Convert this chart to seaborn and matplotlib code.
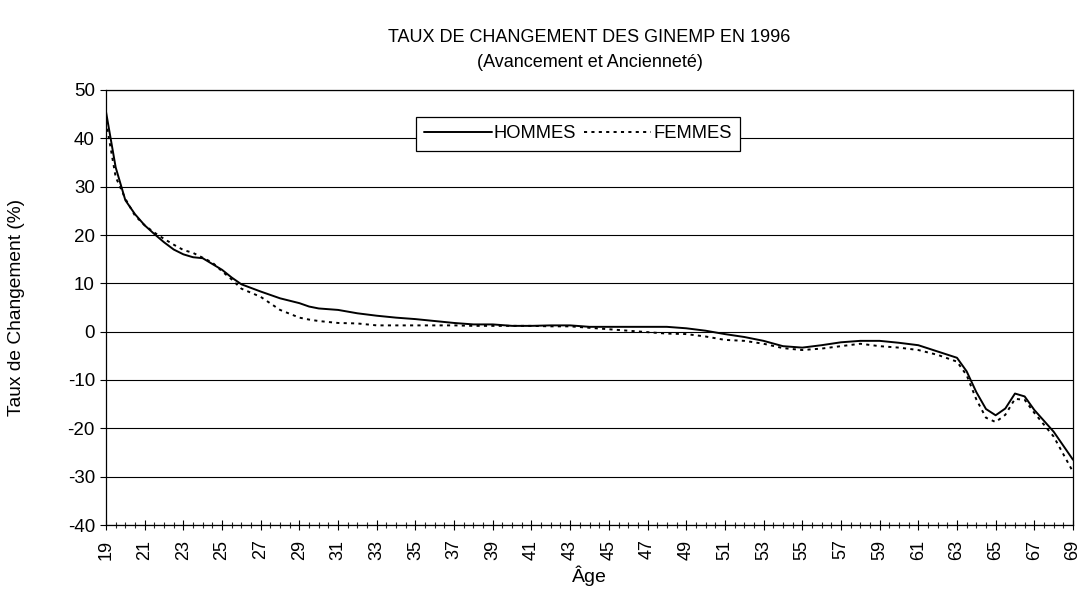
"""Taux de changement des GINEMP en 1996 — hommes / femmes par âge."""

import matplotlib

matplotlib.use("Agg")
import matplotlib.pyplot as plt
import numpy as np
import pandas as pd
import seaborn as sns
from matplotlib.ticker import MultipleLocator

# Âges (pas d'un demi-an là où la courbe bouge vite)
ages = [19, 19.5, 20, 20.5, 21, 21.5, 22, 22.5, 23, 23.5, 24, 24.5, 25, 25.5, 26,
        27, 28, 29, 29.5, 30, 31, 32, 33, 34, 35, 36, 37, 38, 39, 40, 41, 42, 43,
        44, 45, 46, 47, 48, 49, 50, 51, 52, 53, 54, 55, 56, 57, 58, 59, 60, 61, 62,
        63, 63.5, 64, 64.5, 65, 65.5, 66, 66.5, 67, 68, 69]

hommes = [45.5, 34.0, 27.2, 24.3, 22.0, 20.2, 18.5, 17.0, 16.0, 15.4, 15.2, 14.0, 12.8, 11.2, 9.8,
          8.3, 6.9, 5.9, 5.2, 4.8, 4.5, 3.8, 3.3, 2.9, 2.6, 2.2, 1.8, 1.5, 1.5, 1.2, 1.2, 1.3, 1.3,
          1.0, 1.0, 1.0, 1.0, 1.0, 0.7, 0.2, -0.5, -1.1, -1.9, -3.0, -3.3, -2.8, -2.2, -1.9, -1.9, -2.3, -2.8, -4.1,
          -5.4, -8.2, -12.5, -16.0, -17.3, -15.9, -12.8, -13.4, -16.2, -20.7, -26.5]

femmes = [43.5, 32.0, 27.5, 24.0, 22.0, 20.5, 19.2, 18.0, 16.9, 16.3, 15.3, 14.3, 12.5, 10.8, 8.9,
          7.2, 4.5, 2.9, 2.5, 2.2, 1.8, 1.7, 1.3, 1.3, 1.3, 1.3, 1.3, 1.2, 1.2, 1.2, 1.2, 1.1, 1.1,
          0.8, 0.5, 0.2, -0.1, -0.4, -0.5, -1.0, -1.7, -1.9, -2.5, -3.4, -3.8, -3.5, -3.0, -2.5, -3.0, -3.3, -3.8, -4.8,
          -6.2, -9.0, -14.0, -17.8, -18.7, -17.2, -13.9, -14.1, -16.8, -21.7, -29.0]

y_ticks = list(range(-40, 51, 10))
x_labels = list(range(19, 70, 2))

sns.set_style("white")
plt.rcParams["font.family"] = ["Liberation Sans", "DejaVu Sans"]
plt.rcParams["axes.unicode_minus"] = False
plt.rcParams["text.color"] = "black"
plt.rcParams["axes.labelcolor"] = "black"

df = pd.DataFrame({
    "Âge": ages * 2,
    "Taux": hommes + femmes,
    "Sexe": ["HOMMES"] * len(ages) + ["FEMMES"] * len(ages),
})

fig = plt.figure(figsize=(10.81, 5.93), dpi=100)
ax = fig.add_axes([106 / 1081, 1 - 525 / 593, 967 / 1081, 435 / 593])

sns.lineplot(data=df, x="Âge", y="Taux", style="Sexe", color="black",
             dashes={"HOMMES": "", "FEMMES": (1.6, 2.2)}, linewidth=1.4, ax=ax)

ax.set_xlim(19, 69)
ax.set_ylim(-40, 50)
ax.set_yticks(y_ticks)
ax.set_xticks(x_labels)
ax.set_xticklabels([str(a) for a in x_labels], rotation=90)
ax.xaxis.set_minor_locator(MultipleLocator(0.5))
ax.yaxis.grid(True, color="black", linewidth=0.8)
ax.set_axisbelow(True)

for s in ax.spines.values():
    s.set_color("black")
    s.set_linewidth(0.9)

ax.tick_params(axis="x", which="major", direction="inout", length=7, width=0.8,
               pad=7, labelsize=13, colors="black", bottom=True)
ax.tick_params(axis="x", which="minor", direction="inout", length=5, width=0.8, bottom=True)
ax.tick_params(axis="y", which="major", direction="out", length=4, width=0.8,
               pad=4, labelsize=13.5, colors="black", left=True)

ax.set_xlabel("Âge", fontsize=14)
ax.set_ylabel("Taux de Changement (%)", fontsize=13.8)
ax.xaxis.set_label_coords(0.5, -0.093)
ax.yaxis.set_label_coords(-0.084, 0.5)

ax.set_title("TAUX DE CHANGEMENT DES GINEMP EN 1996\n(Avancement et Ancienneté)",
             fontsize=13, linespacing=1.6, pad=16.5)

leg = ax.legend(loc="center", bbox_to_anchor=(0.488, 0.899), ncol=2, frameon=True,
                fancybox=False, handlelength=3.7, handletextpad=0.1, columnspacing=0.4,
                borderpad=0.45, fontsize=13.2)
leg.get_frame().set_edgecolor("black")
leg.get_frame().set_linewidth(0.9)
leg.get_frame().set_alpha(1)

fig.savefig("out.png", dpi=100)
plt.close(fig)
